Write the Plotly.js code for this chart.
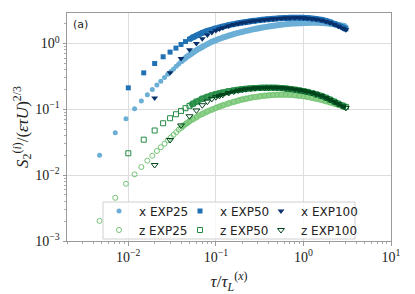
<!DOCTYPE html>
<html>
<head>
<meta charset="utf-8">
<script src="https://cdn.plot.ly/plotly-3.0.1.min.js"></script>
<style>html,body{margin:0;padding:0;background:#fff;}#chart{width:415px;height:294px;}</style>
</head>
<body>
<div id="chart"></div>
<script>
// tau / tau_L^(x)
var tau25 = [0.0047,0.0071,0.0094,0.0118,0.0141,0.0165,0.0188,0.0212,0.0235,0.0259,0.0282,0.0306,0.0329,0.0353,0.0376,0.04,0.0423,0.0447,0.047,
  0.05,0.055,0.06,0.07,0.08,0.09,0.1,0.11,0.12,0.14,0.16,0.18,0.2,0.22,0.25,0.28,0.32,0.36,0.4,0.45,0.5,0.56,0.63,0.7,0.8,0.9,1.0,1.1,1.25,1.4,1.6,1.8,2.0,2.25,2.5,2.8,3.05];
var tau50 = [0.01,0.015,0.02,0.025,0.03,0.035,0.04,0.045,
  0.05,0.055,0.06,0.07,0.08,0.09,0.1,0.11,0.12,0.14,0.16,0.18,0.2,0.22,0.25,0.28,0.32,0.36,0.4,0.45,0.5,0.56,0.63,0.7,0.8,0.9,1.0,1.1,1.25,1.4,1.6,1.8,2.0,2.25,2.5,2.8,3.05];
var tau100 = [0.02,0.03,0.04,0.05,0.06,0.07,0.08,0.09,0.1,0.11,0.12,0.14,0.16,0.18,0.2,0.22,0.25,0.28,0.32,0.36,0.4,0.45,0.5,0.56,0.63,0.7,0.8,0.9,1.0,1.1,1.25,1.4,1.6,1.8,2.0,2.25,2.5,2.8,3.05];

// S2 / (eps tau U)^(2/3)
var xEXP25 = [0.020,0.044,0.072,0.102,0.134,0.167,0.200,0.235,0.268,0.303,0.340,0.375,0.41,0.45,0.49,0.53,0.565,0.60,0.635,
  0.67,0.73,0.79,0.89,0.98,1.06,1.12,1.18,1.23,1.32,1.39,1.45,1.50,1.55,1.61,1.66,1.72,1.77,1.81,1.86,1.89,1.93,1.96,1.99,2.01,2.03,2.04,2.05,2.06,2.06,2.05,2.03,2.00,1.96,1.92,1.86,1.81];
var zEXP25 = [0.00202,0.00453,0.0074,0.0103,0.0133,0.0166,0.0197,0.0233,0.0266,0.030,0.0339,0.0375,0.041,0.045,0.049,0.052,0.056,0.059,0.062,
  0.066,0.071,0.076,0.085,0.093,0.099,0.105,0.110,0.115,0.123,0.130,0.136,0.141,0.145,0.150,0.154,0.158,0.161,0.163,0.165,0.166,0.167,0.167,0.166,0.164,0.161,0.158,0.155,0.150,0.145,0.139,0.133,0.128,0.122,0.117,0.112,0.108];
var xEXP50 = [0.212,0.358,0.496,0.628,0.74,0.851,0.966,1.07,
  1.16,1.25,1.32,1.45,1.55,1.63,1.70,1.76,1.81,1.90,1.97,2.03,2.08,2.12,2.18,2.22,2.27,2.31,2.34,2.37,2.40,2.42,2.44,2.45,2.46,2.46,2.45,2.43,2.40,2.36,2.29,2.21,2.12,2.00,1.88,1.76,1.66];
var zEXP50 = [0.0215,0.0346,0.0477,0.0614,0.0732,0.0842,0.0946,0.104,
  0.113,0.122,0.131,0.145,0.155,0.163,0.170,0.175,0.180,0.188,0.194,0.198,0.202,0.205,0.208,0.210,0.212,0.213,0.213,0.213,0.212,0.210,0.207,0.204,0.199,0.194,0.189,0.184,0.177,0.169,0.160,0.150,0.141,0.131,0.122,0.114,0.109];
var xEXP100 = [0.148,0.358,0.59,0.80,1.0,1.18,1.34,1.47,1.58,1.66,1.73,1.85,1.94,2.01,2.07,2.11,2.17,2.21,2.26,2.30,2.33,2.36,2.39,2.41,2.43,2.44,2.45,2.45,2.44,2.42,2.38,2.33,2.25,2.16,2.07,1.95,1.83,1.71,1.62];
var zEXP100 = [0.01425,0.0342,0.0569,0.0785,0.0962,0.1154,0.131,0.144,0.153,0.160,0.166,0.177,0.186,0.193,0.198,0.202,0.206,0.209,0.211,0.212,0.213,0.213,0.212,0.211,0.208,0.205,0.200,0.195,0.190,0.185,0.177,0.169,0.159,0.149,0.139,0.129,0.120,0.111,0.105];

var seriesNames = ['x EXP25','z EXP25','x EXP50','z EXP50','x EXP100','z EXP100'];
var xTickVals = [0.01,0.1,1,10];
var xTickText = ['10<sup>\u22122</sup>','10<sup>\u22121</sup>','10<sup>0</sup>','10<sup>1</sup>'];
var yTickVals = [0.001,0.01,0.1,1];
var yTickText = ['10<sup>\u22123</sup>','10<sup>\u22122</sup>','10<sup>\u22121</sup>','10<sup>0</sup>'];

// minor tick positions (2..9 x each decade)
function minorTicks(lo, hi) {
  var v = [];
  for (var e = lo; e < hi; e++) for (var m = 2; m <= 9; m++) v.push(m * Math.pow(10, e));
  return v;
}

// where the sampled points become dense enough to merge into a band
var bandStart = {'x EXP25': 0.04, 'z EXP25': 0.04, 'x EXP50': 0.05, 'z EXP50': 0.05, 'x EXP100': 0.1, 'z EXP100': 0.1};

function band(x, y, name, color, width) {
  var bx = [], by = [];
  for (var i = 0; i < x.length; i++) if (x[i] >= bandStart[name]) { bx.push(x[i]); by.push(y[i]); }
  return {x: bx, y: by, type: 'scatter', mode: 'lines', showlegend: false, hoverinfo: 'skip',
          line: {color: color, width: width, shape: 'spline', smoothing: 0.6}};
}

function tr(x, y, name, symbol, color, size, leg, open) {
  return {
    x: x, y: y, name: name, type: 'scatter', mode: 'markers', legend: leg,
    marker: open ? {symbol: symbol, size: size, color: color, line: {color: color, width: 1}}
                 : {symbol: symbol, size: size, color: color, line: {width: 0}}
  };
}

var c = {x25: '#6baed6', z25: '#74c476', x50: '#2171b5', z50: '#238b45', x100: '#08306b', z100: '#00441b'};

var data = [
  band(tau25, xEXP25, seriesNames[0], c.x25, 6),
  tr(tau25, xEXP25, seriesNames[0], 'circle', c.x25, 5, 'legend', false),
  band(tau25, zEXP25, seriesNames[1], '#8fd18a', 6),
  tr(tau25, zEXP25, seriesNames[1], 'circle-open', c.z25, 5, 'legend', true),
  band(tau50, xEXP50, seriesNames[2], c.x50, 6),
  tr(tau50, xEXP50, seriesNames[2], 'square', c.x50, 5, 'legend2', false),
  band(tau50, zEXP50, seriesNames[3], '#3a9a55', 6),
  tr(tau50, zEXP50, seriesNames[3], 'square-open', c.z50, 5, 'legend2', true),
  band(tau100, xEXP100, seriesNames[4], c.x100, 3),
  tr(tau100, xEXP100, seriesNames[4], 'triangle-down', c.x100, 6, 'legend3', false),
  band(tau100, zEXP100, seriesNames[5], c.z100, 3),
  tr(tau100, zEXP100, seriesNames[5], 'triangle-down-open', c.z100, 6, 'legend3', true)
];

var serif = 'Liberation Serif, DejaVu Serif, serif';
var axisCommon = {
  type: 'log', showgrid: true, gridcolor: '#dddddd', gridwidth: 1,
  showline: true, linecolor: '#9a9a9a', linewidth: 1, mirror: true,
  ticks: 'outside', ticklen: 3.5, tickcolor: '#9a9a9a', zeroline: false,
  tickmode: 'array',
  tickfont: {family: serif, size: 14, color: '#222'}
};

// plot area in pixels: left 67, right 391, top 13, bottom 241
function fx(px) { return (px - 67) / 324; }
function fy(py) { return (241 - py) / 228; }

function legendAt(px) {
  return {
    orientation: 'v', x: fx(px), xanchor: 'left', y: fy(196.5), yanchor: 'top',
    bgcolor: 'rgba(0,0,0,0)', borderwidth: 0, tracegroupgap: 0, itemsizing: 'trace',
    font: {family: 'DejaVu Sans, sans-serif', size: 12, color: '#222'}
  };
}

var layout = {
  width: 415, height: 294,
  margin: {l: 67, r: 24, t: 13, b: 53},
  paper_bgcolor: '#ffffff', plot_bgcolor: '#ffffff',
  xaxis: Object.assign({}, axisCommon, {
    range: [-2.7, 1], tickvals: xTickVals, ticktext: xTickText,
    minor: {tickmode: 'array', tickvals: minorTicks(-3, 1), ticks: 'outside', ticklen: 2, tickcolor: '#aaaaaa', showgrid: false},
    title: {text: '<i>\u03c4</i>/<i>\u03c4</i><sub><i>L</i></sub><sup>(<i>x</i>)</sup>', font: {family: serif, size: 17, color: '#222'}, standoff: 12}
  }),
  yaxis: Object.assign({}, axisCommon, {
    range: [-3, 0.463], tickvals: yTickVals, ticktext: yTickText,
    minor: {tickmode: 'array', tickvals: minorTicks(-3, 1), ticks: 'outside', ticklen: 2, tickcolor: '#aaaaaa', showgrid: false},
    title: {text: '<i>S</i><sub>2</sub><sup>(<i>i</i>)</sup>/(<i>\u03b5\u03c4U</i>)<sup>2/3</sup>', font: {family: serif, size: 17, color: '#222'}, standoff: 2}
  }),
  legend: legendAt(99),
  legend2: legendAt(180),
  legend3: legendAt(261),
  shapes: [{
    type: 'rect', xref: 'paper', yref: 'paper', layer: 'above',
    x0: fx(103), x1: fx(355), y0: fy(239), y1: fy(202),
    fillcolor: 'rgba(255,255,255,0.8)', line: {color: '#d0d0d0', width: 1}
  }],
  annotations: [{
    text: '(a)', xref: 'paper', yref: 'paper', x: 0.012, y: 0.985, xanchor: 'left', yanchor: 'top',
    showarrow: false, font: {family: 'DejaVu Sans, sans-serif', size: 11, color: '#222'}
  }]
};

Plotly.newPlot('chart', data, layout, {displayModeBar: false, staticPlot: true});
</script>
</body>
</html>
